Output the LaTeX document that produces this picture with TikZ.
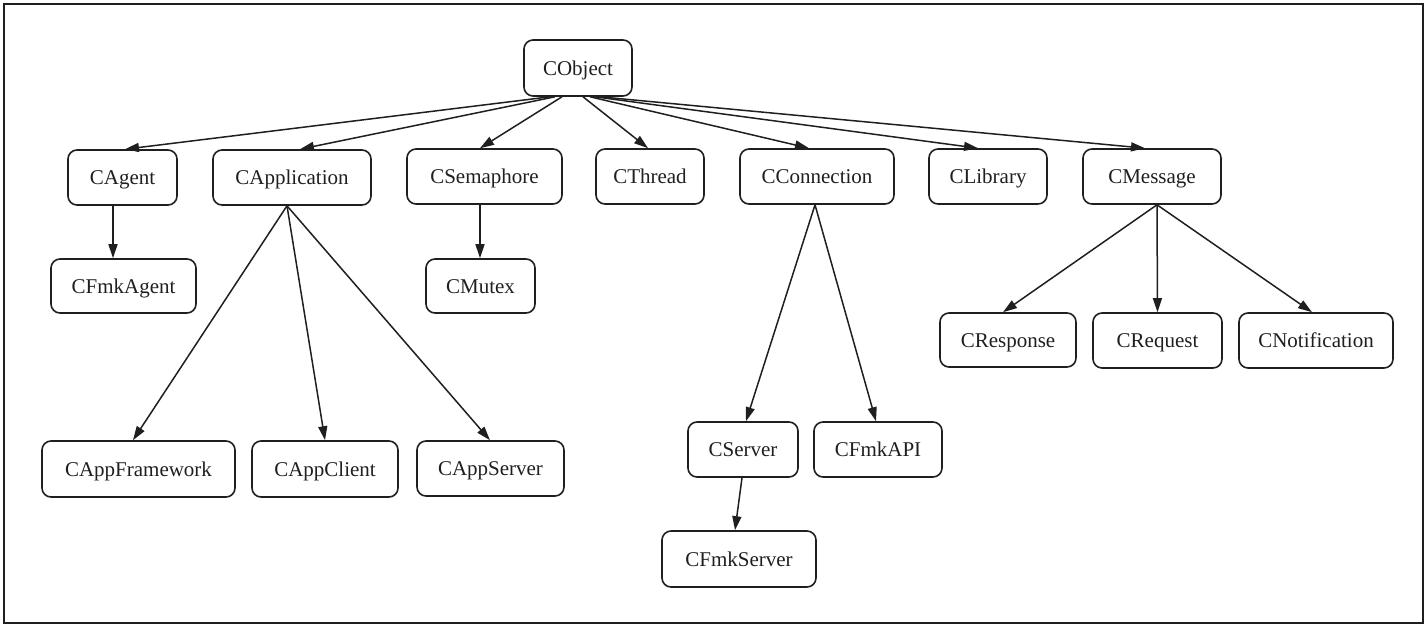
\documentclass[tikz,border=0pt]{standalone}
\usepackage{fontspec}
\setmainfont{Liberation Serif}
\usetikzlibrary{arrows.meta}
\definecolor{ink}{gray}{0.12}
\tikzset{
  cls/.style={draw=ink, line width=1.6pt, rounded corners=9pt, minimum height=55pt,
    inner sep=0pt, text height=14pt, text depth=0pt, text=ink, font=\fontsize{21}{24}\selectfont},
  edge/.style={draw=ink, line width=1.5pt, -{Triangle[length=14pt,width=9pt]}},
}
\begin{document}
\begin{tikzpicture}[x=1pt,y=-1pt]
\useasboundingbox (0,0) rectangle (1428,627);
\draw[ink, line width=1.6pt] (4,4) rectangle (1423,623);

\node[cls, minimum width=108pt, minimum height=56pt] (CObject) at (578,68) {CObject};
\node[cls, minimum width=109pt] (CAgent) at (122.5,177.5) {CAgent};
\node[cls, minimum width=158pt] (CApplication) at (292,177.5) {CApplication};
\node[cls, minimum width=155pt] (CSemaphore) at (484.5,176.5) {CSemaphore};
\node[cls, minimum width=108pt] (CThread) at (650,176.5) {CThread};
\node[cls, minimum width=154pt] (CConnection) at (817,176.5) {CConnection};
\node[cls, minimum width=118pt] (CLibrary) at (988,176.5) {CLibrary};
\node[cls, minimum width=138pt] (CMessage) at (1152,176.5) {CMessage};
\node[cls, minimum width=145pt, minimum height=54pt] (CFmkAgent) at (123.5,286) {CFmkAgent};
\node[cls, minimum width=109pt, minimum height=54pt] (CMutex) at (480.5,286) {CMutex};
\node[cls, minimum width=193pt, minimum height=56pt] (CAppFramework) at (138.5,469) {CAppFramework};
\node[cls, minimum width=146pt, minimum height=56pt] (CAppClient) at (325,469) {CAppClient};
\node[cls, minimum width=147pt] (CAppServer) at (490.5,468.5) {CAppServer};
\node[cls, minimum width=110pt] (CServer) at (743,449.5) {CServer};
\node[cls, minimum width=128pt] (CFmkAPI) at (878,449.5) {CFmkAPI};
\node[cls, minimum width=154pt, minimum height=56pt] (CFmkServer) at (739,559) {CFmkServer};
\node[cls, minimum width=136pt, minimum height=54pt] (CResponse) at (1008,340) {CResponse};
\node[cls, minimum width=129pt] (CRequest) at (1157.5,340.5) {CRequest};
\node[cls, minimum width=154pt] (CNotification) at (1316,340.5) {CNotification};

\draw[edge] ([xshift=-28pt]CObject.south) -- ([xshift=2.5pt]CAgent.north);
\draw[edge] ([xshift=-23pt]CObject.south) -- ([xshift=8pt]CApplication.north);
\draw[edge] ([xshift=-16pt]CObject.south) -- ([xshift=-4.5pt]CSemaphore.north);
\draw[edge] ([xshift=5pt]CObject.south) -- ([xshift=-2pt]CThread.north);
\draw[edge] ([xshift=12pt]CObject.south) -- ([xshift=-8pt]CConnection.north);
\draw[edge] ([xshift=17pt]CObject.south) -- ([xshift=-10pt]CLibrary.north);
\draw[edge] ([xshift=22pt]CObject.south) -- ([xshift=-7pt]CMessage.north);

\draw[edge] ([xshift=-9.5pt]CAgent.south) -- ([xshift=-10.5pt]CFmkAgent.north);

\draw[edge] ([xshift=-5pt]CApplication.south) -- ([xshift=-5.5pt]CAppFramework.north);
\draw[edge] ([xshift=-5pt]CApplication.south) -- (CAppClient.north);
\draw[edge] ([xshift=-5pt]CApplication.south) -- ([xshift=-0.5pt]CAppServer.north);

\draw[edge] ([xshift=-4.5pt]CSemaphore.south) -- ([xshift=-0.5pt]CMutex.north);

\draw[edge] ([xshift=-2pt]CConnection.south) -- ([xshift=3pt]CServer.north);
\draw[edge] ([xshift=-2pt]CConnection.south) -- ([xshift=-2pt]CFmkAPI.north);
\draw[edge] ([xshift=-1pt]CServer.south) -- ([xshift=-4pt]CFmkServer.north);

\draw[edge] ([xshift=5pt]CMessage.south) -- ([xshift=-5pt]CResponse.north);
\draw[edge] ([xshift=5pt]CMessage.south) -- (CRequest.north);
\draw[edge] ([xshift=5pt]CMessage.south) -- ([xshift=-4pt]CNotification.north);
\end{tikzpicture}
\end{document}
